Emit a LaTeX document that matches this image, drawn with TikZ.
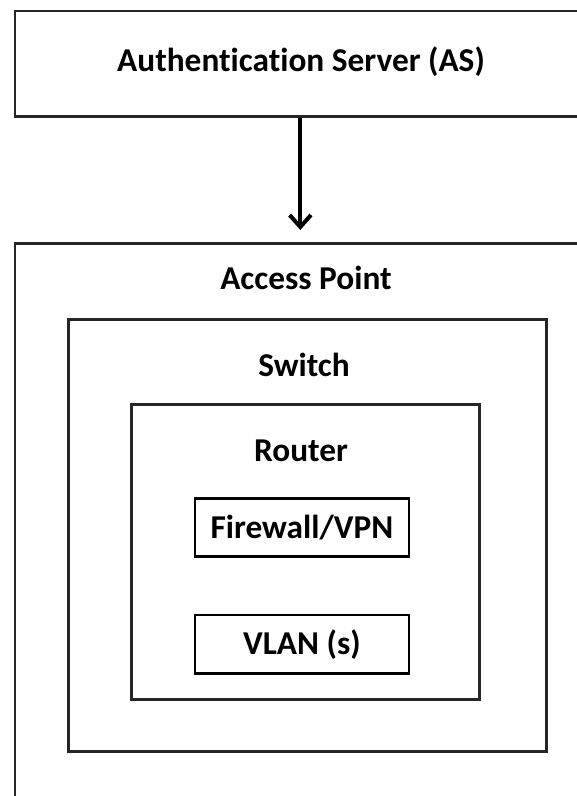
\documentclass[tikz,border=0pt]{standalone}
\usepackage{fontspec}
\setmainfont[RawFeature=-liga]{Carlito}
\usetikzlibrary{arrows.meta}
\definecolor{boxgray}{HTML}{262626}
\begin{document}
\begin{tikzpicture}[x=0.75pt,y=-0.75pt,
  frame/.style={draw=boxgray,line width=2.2pt,inner sep=0pt,anchor=north west},
  smallbox/.style={draw=black,line width=2.2pt,inner sep=0pt,anchor=north west},
  lbl/.style={font=\fontsize{25}{30}\selectfont\bfseries,inner sep=0pt},
  conn/.style={draw=black,line width=3pt,-{Straight Barb[length=9pt,width=16pt,line width=3pt]}}]
\useasboundingbox (0,0) rectangle (577,796);
\clip (0,0) rectangle (577,796);
\node[frame,minimum width=431pt,minimum height=79pt] (as) at (13.5,9.5) {};
\node[lbl] (astext) at (301,62) {Authentication Server (AS)};
\node[frame,minimum width=431pt,minimum height=445pt] (ap) at (13.5,242) {};
\node[lbl] (aptext) at (306,278) {Access Point};
\node[frame,minimum width=358.5pt,minimum height=324pt] (sw) at (67,318) {};
\node[lbl] (swtext) at (304,365) {Switch};
\node[frame,minimum width=261pt,minimum height=221pt] (rt) at (130,403) {};
\node[lbl] (rttext) at (301,451) {Router};
\node[smallbox,minimum width=160.5pt,minimum height=43.5pt] (fw) at (193.5,497) {};
\node[lbl] (fwtext) at (fw.center) {Firewall/VPN};
\node[smallbox,minimum width=160.5pt,minimum height=44pt] (vlan) at (193.5,613.5) {};
\node[lbl] (vlantext) at (vlan.center) {VLAN (s)};
\draw[conn,shorten >=9pt] ([xshift=-1.5pt]as.south) -- ([xshift=-1.5pt]ap.north);
\end{tikzpicture}
\end{document}
